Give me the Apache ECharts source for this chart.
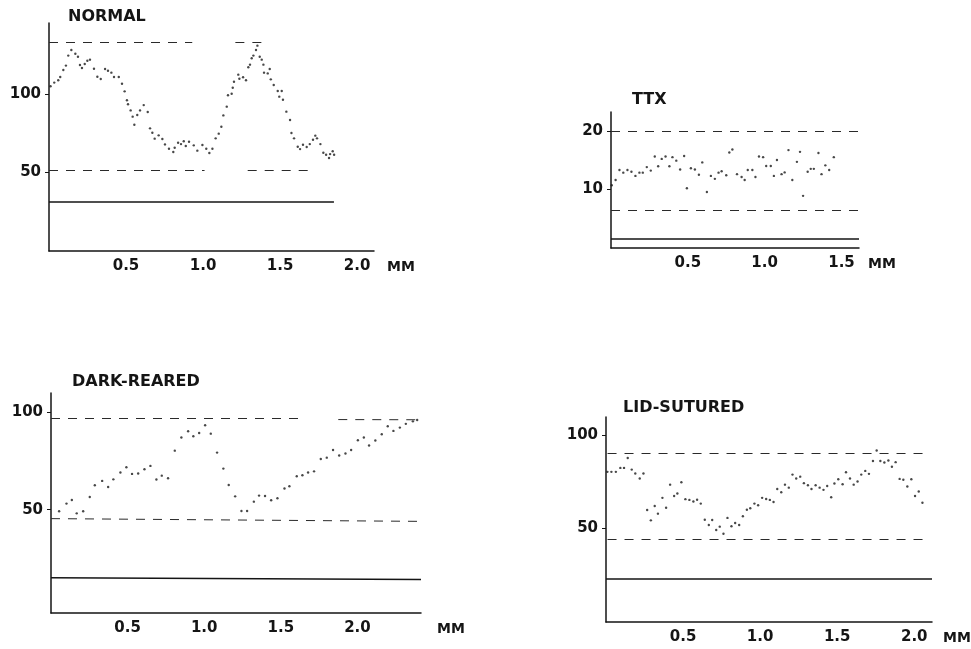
<!DOCTYPE html>
<html>
<head>
<meta charset="utf-8">
<script src="https://cdn.jsdelivr.net/npm/echarts@6/dist/echarts.min.js"></script>
<style>
html,body{margin:0;padding:0;background:#fff;}
#c{width:971px;height:649px;}
</style>
</head>
<body>
<div id="c"></div>
<script>
// ---------- DATA ----------
var titles = ['NORMAL', 'TTX', 'DARK-REARED', 'LID-SUTURED'];

var normalX = [0.01,0.034,0.06,0.073,0.093,0.11,0.125,0.145,0.171,0.188,0.201,0.214,0.232,0.249,0.266,0.292,0.314,0.336,0.364,0.383,0.405,0.422,0.453,0.474,0.491,0.506,0.513,0.530,0.543,0.554,0.573,0.591,0.615,0.641,0.656,0.671,0.686,0.712,0.736,0.753,0.779,0.807,0.816,0.838,0.857,0.875,0.888,0.909,0.94,0.963,0.996,1.021,1.041,1.061,1.082,1.102,1.119,1.132,1.154,1.162,1.186,1.193,1.201,1.229,1.236,1.26,1.279,1.294,1.305,1.316,1.327,1.344,1.353,1.368,1.381,1.392,1.396,1.42,1.433,1.44,1.459,1.485,1.495,1.511,1.519,1.541,1.565,1.574,1.591,1.615,1.63,1.649,1.673,1.693,1.714,1.729,1.74,1.762,1.781,1.799,1.818,1.825,1.842,1.851];
var normalY = [105,107.3,108.8,110.9,115.4,118.2,124.6,128.2,125.8,123.9,118.6,116.7,119.2,121.3,122,116.2,111.1,109.6,116,114.9,113.7,110.9,110.9,106.6,101.7,96,93.4,89.5,85.5,80.3,86.5,89.5,92.9,88.5,78,75.2,71.4,73.5,71.2,67.7,64.9,62.8,65.6,68.8,67.9,69.7,66.7,69.4,67.1,63.7,67.3,64.9,62.2,64.9,71.6,74.6,79,86.3,91.9,99.2,100.2,104,107.9,112.4,109.8,110.7,108.8,117.1,118.8,122.9,124.6,128.2,131,123.9,122,118.8,113.7,113.2,116,109.4,105.8,101.9,98.3,101.9,96.3,88.7,83.3,75,71.6,66.2,64.7,67.5,66,67.9,70.7,73.3,71.6,67.9,62.4,61.1,59,61.5,63.3,61.1];

var ttxX = [0.005,0.03,0.055,0.08,0.107,0.133,0.159,0.185,0.207,0.233,0.259,0.285,0.307,0.33,0.355,0.38,0.40,0.425,0.45,0.476,0.494,0.52,0.546,0.572,0.594,0.624,0.65,0.676,0.70,0.72,0.75,0.77,0.79,0.82,0.85,0.87,0.89,0.92,0.94,0.963,0.99,1.01,1.04,1.06,1.08,1.11,1.13,1.155,1.18,1.21,1.23,1.25,1.28,1.30,1.32,1.35,1.37,1.395,1.42,1.45];
var ttxY = [10.7,11.6,13.3,12.85,13.3,13.0,12.3,12.85,12.85,13.8,13.2,15.6,13.95,15.2,15.6,13.95,15.5,14.9,13.4,15.7,10.2,13.6,13.4,12.5,14.6,9.55,12.3,11.8,12.85,13.1,12.4,16.3,16.8,12.6,12.1,11.6,13.3,13.3,12.1,15.6,15.5,14.0,14.0,12.3,15.0,12.6,12.9,16.7,11.6,14.7,16.4,8.9,13.0,13.5,13.5,16.2,12.6,14.1,13.3,15.5];

var darkX = [0.053,0.101,0.136,0.168,0.21,0.253,0.286,0.334,0.373,0.407,0.453,0.492,0.529,0.569,0.61,0.649,0.688,0.723,0.764,0.808,0.851,0.895,0.929,0.967,1.006,1.043,1.084,1.125,1.16,1.202,1.243,1.28,1.324,1.358,1.397,1.437,1.478,1.524,1.556,1.604,1.641,1.678,1.717,1.761,1.8,1.841,1.881,1.922,1.959,2.003,2.042,2.076,2.117,2.159,2.198,2.235,2.277,2.316,2.362,2.39];
var darkY = [49.2,53.1,54.9,48.1,49.2,56.5,62.5,64.7,61.6,65.5,69,71.7,68.3,68.5,70.7,72.4,65.4,67.4,66.1,80.2,86.9,90.1,87.6,89.2,93.2,88.9,79.2,71,62.6,56.8,49.3,49.3,54.1,57.2,57,54.8,55.8,60.8,62,67.1,67.6,69,69.6,75.9,76.6,80.5,77.7,78.7,80.5,85.5,86.9,82.8,85.4,88.6,92.7,90.3,92,93.9,95.2,95.9];

var lidX = [0.009,0.035,0.064,0.093,0.117,0.141,0.167,0.19,0.219,0.243,0.267,0.291,0.316,0.337,0.366,0.39,0.416,0.442,0.463,0.489,0.515,0.541,0.567,0.591,0.615,0.641,0.667,0.689,0.715,0.738,0.762,0.788,0.814,0.838,0.864,0.888,0.914,0.936,0.963,0.987,1.013,1.039,1.063,1.087,1.111,1.137,1.161,1.186,1.21,1.234,1.26,1.284,1.31,1.333,1.36,1.386,1.411,1.435,1.461,1.482,1.507,1.535,1.557,1.583,1.607,1.632,1.656,1.682,1.706,1.732,1.756,1.78,1.806,1.832,1.855,1.879,1.905,1.929,1.955,1.981,2.005,2.029,2.053];
var lidY = [80.1,80.1,80.1,82.2,82.2,87.5,81.3,79.2,76.5,79.2,59.6,54,61.7,57.6,66.1,60.8,73.2,67.1,68.4,74.5,65.4,65,64.1,65.1,63,54.3,51.5,54.2,48.8,50.6,46.8,55.3,50.8,52.6,51.5,56.2,59.7,60.5,63,62.1,66.1,65.5,65,63.9,70.9,69.1,73.2,71.6,78.6,76.5,77.5,74,72.9,70.9,72.9,71.6,70.4,72.5,66.4,73.8,76.1,73.4,79.9,76.5,73.2,74.9,78.6,80.6,79,85.9,91.6,85.9,85.1,86.2,82.8,85.3,76.3,75.8,72.2,76.1,67.1,69.5,63.5];

// reference lines: [xStart, xEnd, yStart, yEnd]
var normalDashed = [[0,0.93,133,133],[1.21,1.40,133,133],[0,1.01,51,51],[1.29,1.71,51,51]];
var normalSolid  = [[0,1.85,31,31]];
var ttxDashed = [[0,1.614,20,20],[0,1.614,6.5,6.5]];
var ttxSolid  = [[0,1.614,1.6,1.6]];
var darkDashed = [[0,1.62,96.6,96.6],[1.875,2.415,96.1,96.0],[0,2.415,45.4,44.0]];
var darkSolid  = [[0,2.415,15.2,14.3]];
var lidDashed = [[0.01,2.10,90.2,90.2],[0.01,2.10,43.8,43.8]];
var lidSolid  = [[0,2.115,22.7,22.7]];

var xTicksA = [0.5,1.0,1.5,2.0];
var xTicksT = [0.5,1.0,1.5];
var yTicksA = [50,100];
var yTicksT = [10,20];

// ---------- BUILD ----------
var FONT = 'DejaVu Sans';
var INK = '#151515';

function pairs(xs, ys){ return xs.map(function(x,i){ return [x, ys[i]]; }); }
function segs(list){ return list.map(function(s){ return [{coord:[s[0],s[2]]},{coord:[s[1],s[3]]}]; }); }

var panels = [
  {grid:{left:49,top:23,width:325,height:228}, x:[0,2.11], y:[-0.6,145.5], xt:xTicksA, yt:yTicksA, pts:pairs(normalX,normalY), dashed:normalDashed, solid:normalSolid, gap:13},
  {grid:{left:611,top:112,width:248,height:136}, x:[0,1.614], y:[0,23.2], xt:xTicksT, yt:yTicksT, pts:pairs(ttxX,ttxY), dashed:ttxDashed, solid:ttxSolid, gap:9},
  {grid:{left:51,top:393,width:370,height:220}, x:[0,2.415], y:[-2.9,109.7], xt:xTicksA, yt:yTicksA, pts:pairs(darkX,darkY), dashed:darkDashed, solid:darkSolid, gap:16},
  {grid:{left:606,top:417,width:326,height:205}, x:[0,2.115], y:[-0.7,109.6], xt:xTicksA, yt:yTicksA, pts:pairs(lidX,lidY), dashed:lidDashed, solid:lidSolid, gap:11}
];

var titlePos = [[68,9],[632,92],[72,374],[623,400]];

var option = {
  backgroundColor:'#fff',
  animation:false,
  title: titles.map(function(t,i){
    return {text:t, left:titlePos[i][0], top:titlePos[i][1], padding:0,
      textStyle:{fontFamily:FONT, fontWeight:'bold', fontSize:16, color:INK}};
  }),
  grid: panels.map(function(p){
    var g = Object.assign({}, p.grid);
    g.outerBoundsMode = 'none';
    g.containLabel = false;
    return g;
  }),
  xAxis: panels.map(function(p,i){
    return {type:'value', gridIndex:i, min:p.x[0], max:p.x[1],
      name:'MM', nameLocation:'end', nameGap:p.gap,
      nameTextStyle:{fontFamily:FONT, fontWeight:'bold', fontSize:14, color:INK, verticalAlign:'top', padding:[9,0,0,0]},
      axisLine:{show:true, onZero:false, lineStyle:{color:INK, width:1.5}},
      axisTick:{show:false},
      splitLine:{show:false},
      axisLabel:{customValues:p.xt, formatter:function(v){return v.toFixed(1);}, fontFamily:FONT, fontWeight:'bold', fontSize:15, color:INK, margin:8}
    };
  }),
  yAxis: panels.map(function(p,i){
    return {type:'value', gridIndex:i, min:p.y[0], max:p.y[1],
      axisLine:{show:true, onZero:false, lineStyle:{color:INK, width:1.5}},
      axisTick:{show:true, customValues:p.yt, length:4, lineStyle:{color:INK, width:1}},
      splitLine:{show:false},
      axisLabel:{customValues:p.yt, fontFamily:FONT, fontWeight:'bold', fontSize:15, color:INK, margin:8}
    };
  }),
  series: []
};

panels.forEach(function(p,i){
  option.series.push({
    type:'scatter', xAxisIndex:i, yAxisIndex:i, data:p.pts,
    symbol:'circle', symbolSize:2.4, itemStyle:{color:'#1a1a1a'}, silent:true,
    markLine:{silent:true, symbol:['none','none'], label:{show:false},
      lineStyle:{type:[9,8], color:'#2a2a2a', width:1}, data:segs(p.dashed)}
  });
  option.series.push({
    type:'scatter', xAxisIndex:i, yAxisIndex:i, data:[], silent:true,
    markLine:{silent:true, symbol:['none','none'], label:{show:false},
      lineStyle:{type:'solid', color:INK, width:1.5}, data:segs(p.solid)}
  });
});

var chart = echarts.init(document.getElementById('c'), null, {renderer:'canvas'});
chart.setOption(option);
</script>
</body>
</html>
